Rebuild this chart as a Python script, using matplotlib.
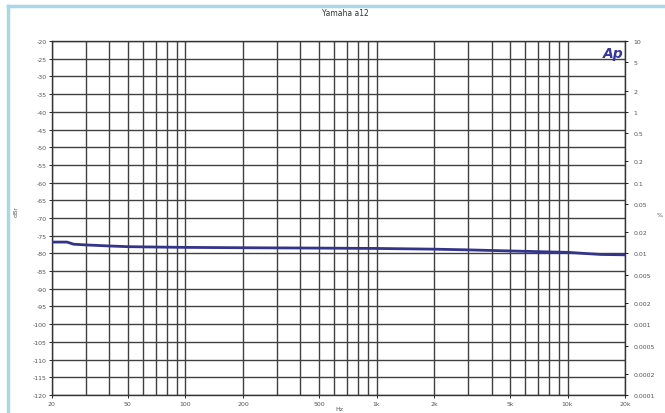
import numpy as np
import matplotlib
matplotlib.use("Agg")
import matplotlib.pyplot as plt
from matplotlib.lines import Line2D

# THD+N vs frequency
freq_hz = [20, 24, 26, 30, 40, 50, 70, 100, 200, 500, 1000, 2000, 3000, 5000, 7000, 10000, 13000, 15000, 20000]
thd_dbr = [-76.8, -76.8, -77.4, -77.6, -77.9, -78.1, -78.2, -78.3, -78.4, -78.5, -78.6, -78.8, -79.0, -79.3, -79.5, -79.7, -80.1, -80.3, -80.4]

x_ticks = [20, 50, 100, 200, 500, 1000, 2000, 5000, 10000, 20000]
x_labels = ["20", "50", "100", "200", "500", "1k", "2k", "5k", "10k", "20k"]
left_ticks = list(range(-20, -121, -5))
pct_labels = ["10", "5", "2", "1", "0.5", "0.2", "0.1", "0.05", "0.02", "0.01",
              "0.005", "0.002", "0.001", "0.0005", "0.0002", "0.0001"]

fig = plt.figure(figsize=(6.65, 4.14), dpi=100)
ax = fig.add_axes([0.078, 0.0435, 0.862, 0.855])

# grid: 20..20k every unit step in each decade
grid_f = [m * 10 ** d for d in range(1, 5) for m in range(1, 10) if 20 <= m * 10 ** d <= 20000]
for f in grid_f:
    ax.axvline(f, color="#404040", lw=1.0, zorder=1)
for v in left_ticks:
    ax.axhline(v, color="#404040", lw=1.0, zorder=1)

ax.plot(freq_hz, thd_dbr, color="#34348a", lw=2.0, zorder=3)

ax.set_xscale("log")
ax.set_xlim(20, 20000)
ax.set_ylim(-120, -20)
ax.set_xticks(x_ticks)
ax.set_xticklabels(x_labels)
ax.minorticks_off()
ax.set_yticks(left_ticks)
ax.set_yticklabels([str(v) for v in left_ticks])
ax.tick_params(labelsize=4.5, labelcolor="#555555", length=2, width=0.6, pad=2)
for s in ax.spines.values():
    s.set_color("#333333")
    s.set_linewidth(1.0)

ax2 = ax.twinx()
ax2.set_ylim(-120, -20)
pct_vals = [float(p) for p in pct_labels]
ax2.set_yticks([20 * np.log10(p / 100) for p in pct_vals])
ax2.set_yticklabels(pct_labels)
ax2.tick_params(labelsize=4.5, labelcolor="#555555", length=2, width=0.6, pad=4)
ax2.minorticks_off()
for s in ax2.spines.values():
    s.set_visible(False)

fig.text(0.519, 0.968, "Yamaha a12", fontsize=5.5, color="#333333", ha="center", va="center")
fig.text(0.51, 0.012, "Hz", fontsize=4.5, color="#555555", ha="center", va="center")
fig.text(0.024, 0.49, "dBr", fontsize=4.5, color="#555555", ha="center", va="center", rotation=90)
fig.text(0.992, 0.48, "%", fontsize=4.5, color="#555555", ha="center", va="center")
ax.text(0.997, 0.985, "Ap", transform=ax.transAxes, fontsize=10, color="#3535a0",
        fontweight="bold", fontstyle="italic", ha="right", va="top", zorder=4)

# light blue window frame on top and left
fig.add_artist(Line2D([0.012, 1.0], [0.983, 0.983], transform=fig.transFigure, color="#a9d8ea", lw=2.5))
fig.add_artist(Line2D([0.012, 0.012], [0.0, 0.983], transform=fig.transFigure, color="#a9d8ea", lw=2.5))

fig.savefig("out.png", dpi=100)
